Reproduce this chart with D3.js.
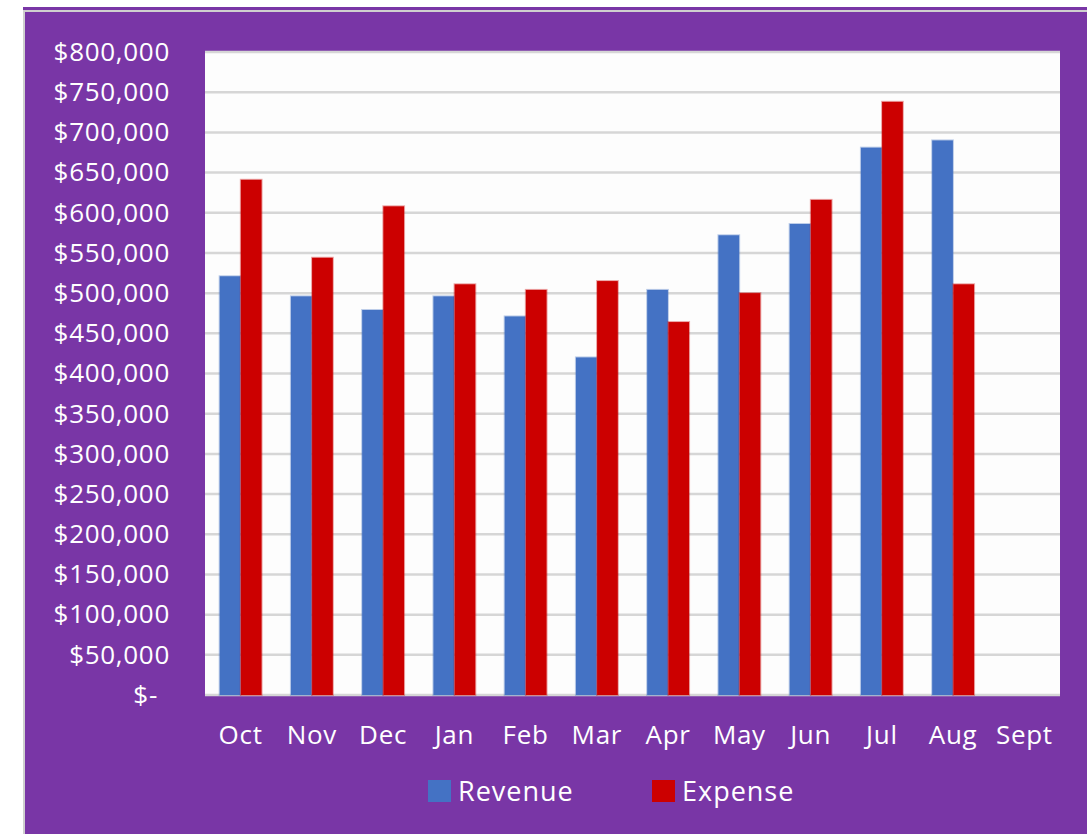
<!DOCTYPE html>
<html>
<head>
<meta charset="utf-8">
<script src="https://cdn.jsdelivr.net/npm/d3@7"></script>
<style>
  html, body { margin: 0; padding: 0; background: #ffffff; }
  svg { display: block; }
  text { font-family: "Open Sans", "Noto Sans", sans-serif; fill: #ffffff; }
</style>
</head>
<body>
<div class="root"></div>
<script>
// data
var months   = ["Oct", "Nov", "Dec", "Jan", "Feb", "Mar", "Apr", "May", "Jun", "Jul", "Aug", "Sept"];
var revenue  = [521000, 496000, 479000, 496000, 471000, 420000, 504000, 572000, 586000, 681000, 690000, null];
var expense  = [641000, 544000, 608000, 511000, 504000, 515000, 464000, 500000, 616000, 738000, 511000, null];
var series   = ["Revenue", "Expense"];
var yTicks   = d3.range(0, 800001, 50000);

var width = 1087, height = 834;
var colors = { "Revenue": "#4472c4", "Expense": "#cc0000" };

var svg = d3.select(".root").append("svg")
    .attr("width", width)
    .attr("height", height);

// purple chart area
svg.append("rect")
    .attr("x", 23).attr("y", 7)
    .attr("width", width - 23).attr("height", height - 7)
    .attr("fill", "#7936a6");
svg.append("line")
    .attr("x1", 23).attr("x2", width).attr("y1", 11).attr("y2", 11)
    .attr("stroke", "#cfcfcf").attr("stroke-width", 2);
svg.append("line")
    .attr("x1", 24).attr("x2", 24).attr("y1", 11).attr("y2", height)
    .attr("stroke", "#cfcfcf").attr("stroke-width", 2);

var plot = { left: 205, right: 1060, top: 52, bottom: 695 };

svg.append("rect")
    .attr("x", plot.left).attr("y", plot.top - 1)
    .attr("width", plot.right - plot.left).attr("height", plot.bottom - plot.top + 1)
    .attr("fill", "#fdfdfd");

var x0 = d3.scaleBand().domain(months).range([plot.left, plot.right]).paddingInner(0.4).paddingOuter(0.2);
var x1 = d3.scaleBand().domain(series).range([0, x0.bandwidth()]).padding(0.02);
var y  = d3.scaleLinear().domain([0, 800000]).range([plot.bottom, plot.top]);

// gridlines
svg.append("g")
  .selectAll("line")
  .data(yTicks)
  .enter()
  .append("line")
    .attr("x1", plot.left).attr("x2", plot.right)
    .attr("y1", function (d) { return y(d); })
    .attr("y2", function (d) { return y(d); })
    .attr("stroke", "#d6d6d6")
    .attr("stroke-width", 2.5);

// bars
var rows = months.map(function (m, i) {
  return { month: m, values: [
    { key: "Revenue", value: revenue[i] },
    { key: "Expense", value: expense[i] }
  ]};
});

var groups = svg.append("g")
  .selectAll("g")
  .data(rows)
  .enter()
  .append("g")
    .attr("transform", function (d) { return "translate(" + x0(d.month) + ",0)"; });

groups.selectAll("rect")
  .data(function (d) { return d.values.filter(function (v) { return v.value != null; }); })
  .enter()
  .append("rect")
    .attr("x", function (d) { return x1(d.key); })
    .attr("y", function (d) { return y(d.value); })
    .attr("width", x1.bandwidth())
    .attr("height", function (d) { return y(0) - y(d.value); })
    .attr("fill", function (d) { return colors[d.key]; })
    .attr("stroke", function (d) { return colors[d.key]; })
    .attr("stroke-opacity", 0.35)
    .attr("stroke-width", 2);

// y axis labels
var yAxis = d3.axisLeft(y)
    .tickValues(yTicks)
    .tickSize(0)
    .tickPadding(0)
    .tickFormat(function (d) { return d === 0 ? "$-" : "$" + d3.format(",")(d); });

var yg = svg.append("g")
    .attr("transform", "translate(170,0)")
    .call(yAxis);
yg.select(".domain").remove();
yg.selectAll("text")
    .attr("font-size", 26)
    .attr("fill", "#ffffff")
    .attr("letter-spacing", "0.7px")
    .attr("dx", function (d) { return d === 0 ? -12 : 0; })
    .style("font-family", "'Open Sans', sans-serif");

// x axis labels
var xAxis = d3.axisBottom(x0).tickSize(0).tickPadding(0);
var xg = svg.append("g")
    .attr("transform", "translate(0,723)")
    .call(xAxis);
xg.select(".domain").remove();
xg.selectAll("text")
    .attr("font-size", 26)
    .attr("fill", "#ffffff")
    .attr("letter-spacing", "0.7px")
    .attr("dy", "0.8em")
    .style("font-family", "'Open Sans', sans-serif");

// legend
var legendPos = { "Revenue": 428, "Expense": 652 };
var legend = svg.append("g")
  .selectAll("g")
  .data(series)
  .enter()
  .append("g")
    .attr("transform", function (d) { return "translate(" + legendPos[d] + ",780)"; });

legend.append("rect")
    .attr("width", 23).attr("height", 22)
    .attr("fill", function (d) { return colors[d]; });

legend.append("text")
    .attr("x", 30).attr("y", 21)
    .attr("font-size", 27)
    .attr("letter-spacing", "1px")
    .text(function (d) { return d; });
</script>
</body>
</html>
